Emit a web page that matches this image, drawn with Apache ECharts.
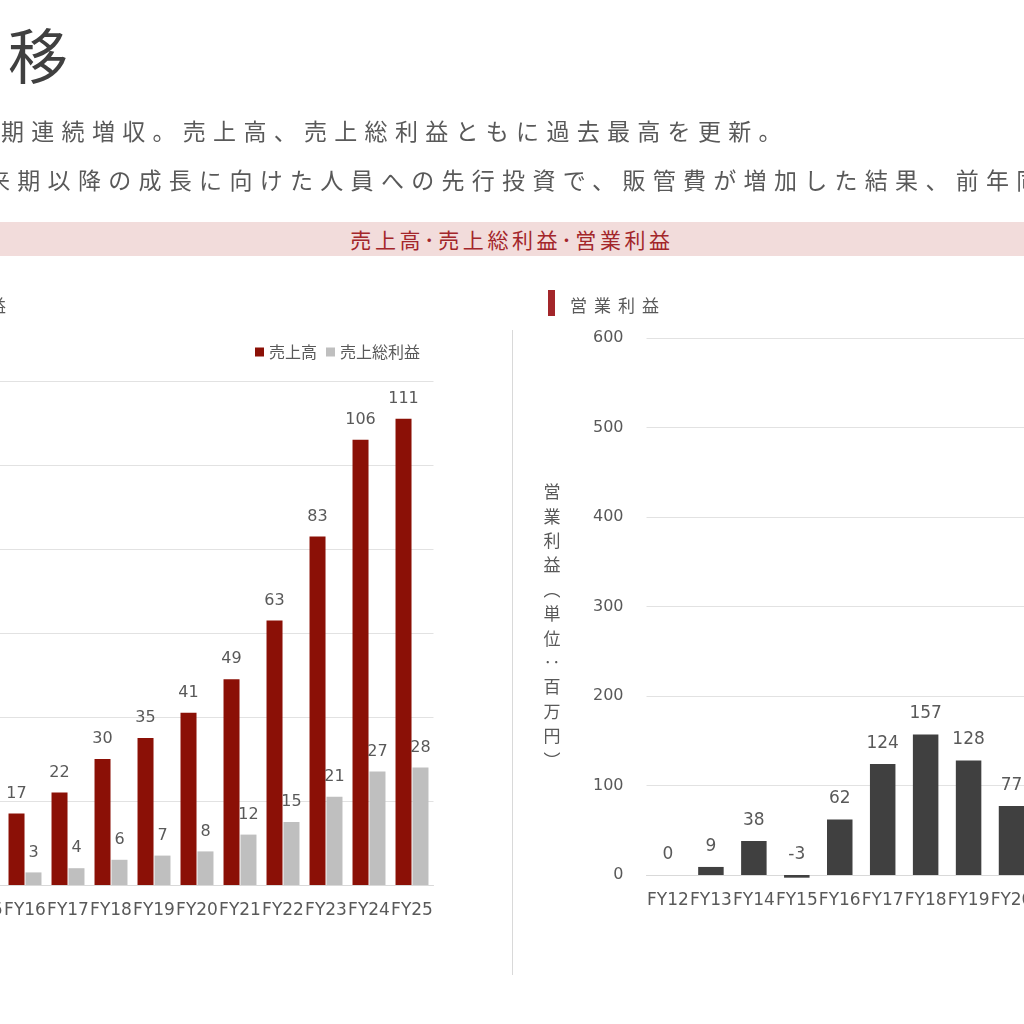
<!DOCTYPE html>
<html>
<head>
<meta charset="utf-8">
<script src="https://cdn.jsdelivr.net/npm/echarts@6/dist/echarts.min.js"></script>
<style>
    html, body { margin: 0; padding: 0; background: #ffffff; }
    body { width: 1024px; height: 1024px; position: relative; overflow: hidden; font-family: 'Noto Sans CJK JP', sans-serif; }
    .chart { position: absolute; left: 0; top: 0; width: 1024px; height: 1024px; }
    .txt { position: absolute; white-space: nowrap; z-index: 2; }
    .page-title { left: 8px; top: 23px; font-size: 60px; line-height: 60px; color: #404040; }
    .lead { font-size: 23px; line-height: 23px; letter-spacing: 7.3px; color: #595959; }
    .band { position: absolute; left: 0; top: 222px; width: 1024px; height: 34px; background: #f2dcdb; z-index: 1; }
    .band-text { left: 0; top: 222px; width: 1024px; height: 34px; line-height: 34px; text-align: center; font-size: 21px; letter-spacing: 3.6px; color: #a3262a; }
    .sub-head { top: 296px; font-size: 17px; line-height: 17px; letter-spacing: 7px; color: #595959; }
    .sub-mark { position: absolute; left: 548px; top: 290px; width: 7px; height: 26px; background: #a3262a; z-index: 2; }
    .divider { position: absolute; left: 512px; top: 330px; width: 1px; height: 645px; background: #d9d9d9; z-index: 2; }
</style>
</head>
<body>
<div class="chart" id="main"></div>
<div class="txt page-title">移</div>
<div class="txt lead" style="left:1px; top:119px;">期連続増収。売上高、売上総利益ともに過去最高を更新。</div>
<div class="txt lead" style="left:-13px; top:168px;">来期以降の成長に向けた人員への先行投資で、販管費が増加した結果、前年同</div>
<div class="band"></div>
<div class="txt band-text">売上高･売上総利益･営業利益</div>
<div class="txt sub-head" style="right:1011px;">売上高・売上総利益</div>
<div class="sub-mark"></div>
<div class="txt sub-head" style="left:570px;">営業利益</div>
<div class="divider"></div>

<script>
// 売上高・売上総利益 (左)
let fyLeft = ['FY15', 'FY16', 'FY17', 'FY18', 'FY19', 'FY20', 'FY21', 'FY22', 'FY23', 'FY24', 'FY25'];
let revenue = [13, 17, 22, 30, 35, 41, 49, 63, 83, 106, 111];
let grossProfit = [2, 3, 4, 6, 7, 8, 12, 15, 21, 27, 28];

// 営業利益 (右)
let fyRight = ['FY12', 'FY13', 'FY14', 'FY15', 'FY16', 'FY17', 'FY18', 'FY19', 'FY20'];
let operatingProfit = [0, 9, 38, -3, 62, 124, 157, 128, 77];
let profitTicks = [0, 600, 100];
let profitAxisName = '営業利益︵単位‥百万円︶';

let numFont = 'DejaVu Sans';
let jpFont = 'Noto Sans CJK JP';
let textColor = '#595959';
let gridColor = '#e2e2e2';

let myChart = echarts.init(document.getElementById('main'), null, { renderer: 'canvas' });

let labelStyle = function(size) {
    return {
        show: true,
        position: 'top',
        distance: 12,
        color: textColor,
        fontSize: size,
        fontFamily: numFont
    };
};

let categoryAxis = function(index, data) {
    return {
        type: 'category',
        gridIndex: index,
        data: data,
        axisLine: { lineStyle: { color: '#d9d9d9' } },
        axisTick: { show: false },
        axisLabel: {
            interval: 0,
            hideOverlap: false,
            margin: 17,
            color: textColor,
            fontSize: 17,
            fontFamily: numFont
        }
    };
};

let options = {
    backgroundColor: '#ffffff',
    animation: false,
    legend: {
        data: ['売上高', '売上総利益'],
        right: 599,
        top: 339,
        icon: 'rect',
        itemWidth: 9,
        itemHeight: 9,
        itemGap: 9,
        textStyle: { color: textColor, fontSize: 16, fontFamily: jpFont }
    },
    grid: [
        { left: -39.5, right: 590.5, top: 381, bottom: 139, outerBoundsMode: 'none', containLabel: false },
        { left: 646.5, right: -9, top: 338, bottom: 149, outerBoundsMode: 'none', containLabel: false }
    ],
    xAxis: [
        categoryAxis(0, fyLeft),
        categoryAxis(1, fyRight)
    ],
    yAxis: [
        {
            type: 'value',
            gridIndex: 0,
            min: 0,
            max: 120,
            interval: 20,
            axisLabel: { show: false },
            axisLine: { show: false },
            axisTick: { show: false },
            splitLine: { lineStyle: { color: gridColor } }
        },
        {
            type: 'value',
            gridIndex: 1,
            min: profitTicks[0],
            max: profitTicks[1],
            interval: profitTicks[2],
            axisLabel: { margin: 23, color: textColor, fontSize: 16, fontFamily: numFont },
            axisLine: { show: false },
            axisTick: { show: false },
            splitLine: { lineStyle: { color: gridColor } }
        }
    ],
    graphic: [
        {
            // 縦書きの軸タイトル
            type: 'text',
            x: 552,
            y: 626,
            style: {
                text: profitAxisName.split('').join('\n'),
                fill: textColor,
                fontSize: 17,
                lineHeight: 24.4,
                fontFamily: jpFont,
                align: 'center',
                verticalAlign: 'middle'
            }
        }
    ],
    series: [
        {
            name: '売上高',
            type: 'bar',
            xAxisIndex: 0,
            yAxisIndex: 0,
            data: revenue,
            barWidth: 16,
            barGap: '6%',
            itemStyle: { color: '#8b1006' },
            label: labelStyle(16)
        },
        {
            name: '売上総利益',
            type: 'bar',
            xAxisIndex: 0,
            yAxisIndex: 0,
            data: grossProfit,
            barWidth: 16,
            barGap: '6%',
            itemStyle: { color: '#bfbfbf' },
            label: labelStyle(16)
        },
        {
            name: '営業利益',
            type: 'bar',
            xAxisIndex: 1,
            yAxisIndex: 1,
            data: operatingProfit,
            barWidth: 25.5,
            clip: false,
            itemStyle: { color: '#404040' },
            label: labelStyle(17)
        }
    ]
};

myChart.setOption(options);
</script>
</body>
</html>
